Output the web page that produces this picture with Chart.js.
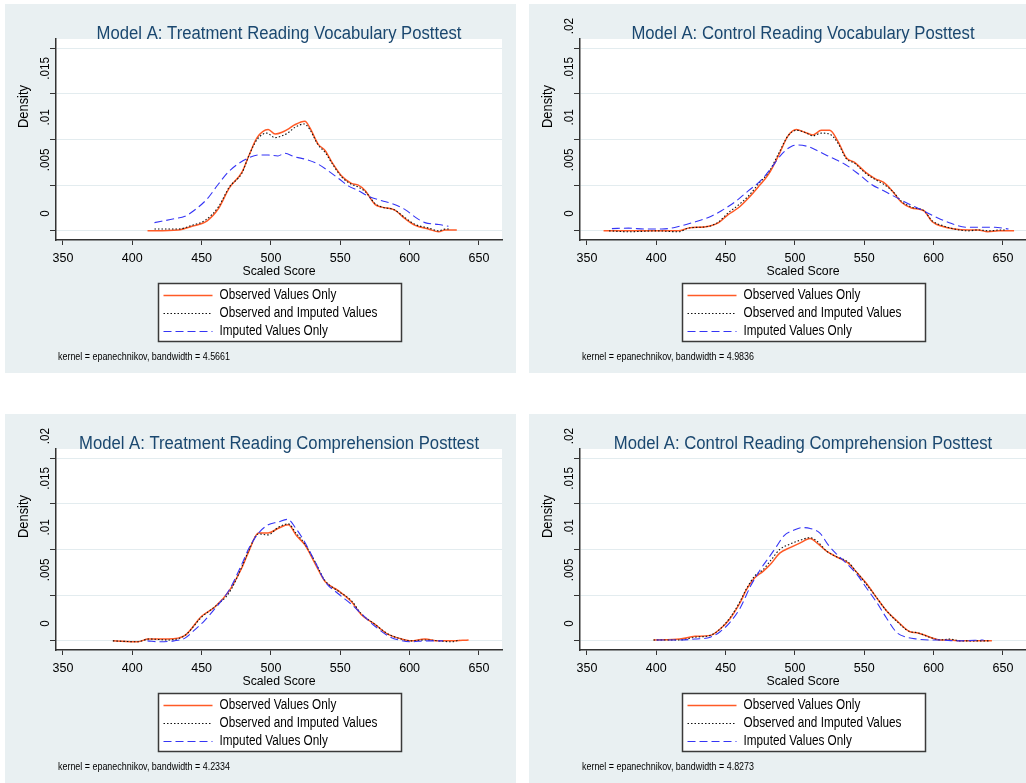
<!DOCTYPE html>
<html><head><meta charset="utf-8">
<script src="https://cdn.jsdelivr.net/npm/chart.js@4.4.1/dist/chart.umd.min.js"></script>
<style>
html,body{margin:0;padding:0;background:#fff;}
body{width:1026px;height:783px;overflow:hidden;position:relative;}
.panel{position:absolute;width:511px;height:369px;background:#e9f0f2;overflow:hidden;}
.panel canvas{position:absolute;left:0;top:0;}
</style></head><body>
<div class="panel" style="left:5px;top:4px"><canvas id="c0" width="511" height="369"></canvas></div>
<div class="panel" style="left:529px;top:4px"><canvas id="c1" width="511" height="369"></canvas></div>
<div class="panel" style="left:5px;top:414px"><canvas id="c2" width="511" height="369"></canvas></div>
<div class="panel" style="left:529px;top:414px"><canvas id="c3" width="511" height="369"></canvas></div>
<script>
// ---- tick labels, titles ----
const xTicks = [350, 400, 450, 500, 550, 600, 650];
const yTicks = [0, 0.005, 0.01, 0.015, 0.02];
const yTickLabels = ['0', '.005', '.01', '.015', '.02'];
const seriesLabels = ['Observed Values Only', 'Observed and Imputed Values', 'Imputed Values Only'];
const panelTitles = [
  'Model A: Treatment Reading Vocabulary Posttest',
  'Model A: Control Reading Vocabulary Posttest',
  'Model A: Treatment Reading Comprehension Posttest',
  'Model A: Control Reading Comprehension Posttest'
];
const panelNotes = [
  'kernel = epanechnikov, bandwidth = 4.5661',
  'kernel = epanechnikov, bandwidth = 4.9836',
  'kernel = epanechnikov, bandwidth = 4.2334',
  'kernel = epanechnikov, bandwidth = 4.8273'
];

// ---- Panel 1: Treatment Vocabulary ----
const p1ObsX = [411,433,443,454,462,470,479,484,490,498,503,508,513,517,524.5,528,534,539,544,551,558,563,568,575,580,589,597,604,613.5,621,625.5,634];
const p1ObsY = [0,0.0001,0.0005,0.0011,0.0024,0.0047,0.0064,0.0082,0.0102,0.0111,0.0106,0.0108,0.0112,0.0116,0.0120,0.0113,0.0095,0.0088,0.0075,0.0060,0.0052,0.0050,0.0044,0.0029,0.0026,0.0023,0.0013,0.0006,0.0002,-0.0001,0.0001,0.0001];
const p1AllX = [416,433,443,453,462,470,479,484,490,497,503,508,512,517,524,528,534,539,544,551,558,563,568,575,580,589,597,604,614,621,626,628.5];
const p1AllY = [0.0002,0.0002,0.0006,0.0012,0.0026,0.0048,0.0063,0.0082,0.0100,0.0107,0.0102,0.0104,0.0107,0.0113,0.0117,0.0111,0.0094,0.0086,0.0074,0.0059,0.0051,0.0048,0.0043,0.0030,0.0026,0.0023,0.0014,0.0007,0.0003,0.0000,0.0002,0.0002];
const p1ImpX = [416,431,438,446,454,462,469,476,484,491,498,505,510,517,526,534,541,549,556,563,570,580,587,597,604,611,621,628];
const p1ImpY = [0.0009,0.00135,0.0016,0.0024,0.0035,0.0051,0.0064,0.0073,0.0080,0.0083,0.0083,0.0082,0.0085,0.0081,0.0078,0.0073,0.0066,0.0057,0.0049,0.0044,0.0038,0.0033,0.0030,0.0023,0.0015,0.0009,0.0007,0.0005];

// ---- Panel 2: Control Vocabulary ----
const p2ObsX = [362,380,400,416,423,438,445,452,459,466.5,474,481,488,495,501,507,513,519,525,531,537,543,551,558,564,570,577,584,593,599,606,615,625,632,639,647,658];
const p2ObsY = [0,0,0,0,0.0003,0.0005,0.0009,0.0018,0.0025,0.0036,0.0049,0.0062,0.0082,0.0104,0.0111,0.0108,0.0105,0.0110,0.0110,0.0098,0.0080,0.0075,0.0064,0.0057,0.0053,0.0044,0.0031,0.0025,0.0022,0.0010,0.0005,0.0002,0.0001,0.0001,-0.0001,0,0];
const p2AllX = [366,380,400,416,423,438,445,452,459,467,474,481,488,495,501,507,513,519,525,531,537,543,551,558,564,570,577,584,593,599,606,615,625,632,640,648,652];
const p2AllY = [0,-0.0001,0,-0.0001,0.0003,0.0005,0.0010,0.0020,0.0028,0.0039,0.0052,0.0064,0.0084,0.0104,0.0110,0.0108,0.0104,0.0107,0.0106,0.0096,0.0079,0.0074,0.0063,0.0056,0.0051,0.0044,0.0032,0.0026,0.0022,0.0011,0.0006,0.0002,0,0.0001,0,0.0001,0.0001];
const p2ImpX = [368,380,392,404,414,426,438,447,457,466.5,476,483,490.5,498,502.5,510,517,526.5,536,546,555,565,575,584,594,603,613,623,632,644,654];
const p2ImpY = [0.00025,0.0003,0.0002,0.0002,0.0004,0.0009,0.0015,0.0022,0.0032,0.0044,0.0056,0.0069,0.0084,0.0093,0.0094,0.0092,0.0087,0.0080,0.0073,0.0062,0.0051,0.0043,0.0035,0.0028,0.0021,0.0014,0.0008,0.0004,0.0004,0.0004,0.0002];

// ---- Panel 3: Treatment Comprehension ----
const p3ObsX = [386,404,411.5,426,438,450,459.5,470,479,484,491,498,505,512.5,518.5,524.5,532,539,548.5,558,565,575,584.5,592,601,611,620.5,630,642.5];
const p3ObsY = [0,-0.0001,0.0002,0.0002,0.0006,0.0027,0.0037,0.0055,0.0080,0.0098,0.0118,0.0118,0.0123,0.0127,0.0115,0.0105,0.0084,0.0065,0.0055,0.0043,0.0029,0.0018,0.0007,0.0003,0,0.0002,0,0,0.0001];
const p3AllX = [386,404,412,426,438,450,460,470,479,484,491,498,505,512.5,518,524,532,539,549,558,565,575,585,592,601,611,621,630,636];
const p3AllY = [0,-0.0001,0.0002,0.0001,0.0006,0.0026,0.0038,0.0053,0.0081,0.0099,0.0117,0.0116,0.0124,0.0128,0.0118,0.0107,0.0086,0.0066,0.0054,0.0044,0.0030,0.0018,0.0007,0.0003,0,0.0001,0,-0.0001,0.0001];
const p3ImpX = [411,420,430,438,445,452,460,470,479,484,491,498,505,512,518,524,532,539,549,558,565,575,585,592,601,611,624];
const p3ImpY = [0,-0.0001,0,0.0003,0.0012,0.0022,0.0036,0.0056,0.0084,0.0101,0.0118,0.0127,0.0130,0.0133,0.0123,0.0109,0.0086,0.0065,0.0051,0.0040,0.0030,0.0016,0.0005,0.0001,-0.0001,0,0];

// ---- Panel 4: Control Comprehension ----
const p4ObsX = [398,417,428,439,446,453,460.5,465,471,477,483,489,496.5,503.5,511,516,523,530,538.5,544.5,552,559,566,573.5,583,588,597.5,604.5,612,619,631,642];
const p4ObsY = [0.0001,0.0002,0.0005,0.0006,0.0013,0.0024,0.0042,0.0056,0.0069,0.0076,0.0085,0.0096,0.0102,0.0107,0.0112,0.0107,0.0098,0.0092,0.0085,0.0075,0.0062,0.0047,0.0033,0.0022,0.0010,0.0009,0.0004,0.0001,0.0001,0,0,0];
const p4AllX = [398,417,428,439,446,453,460,465,471,477,483,489,496.5,503.5,511,516,523,530,538.5,544.5,552,559,566,573,583,588,597,605,612,619,631,640];
const p4AllY = [0.0001,0.0001,0.0004,0.0006,0.0013,0.0025,0.0042,0.0057,0.0071,0.0078,0.0089,0.0100,0.0106,0.0110,0.0113,0.0109,0.0098,0.0092,0.0086,0.0075,0.0061,0.0047,0.0033,0.0022,0.0010,0.0009,0.0004,0.0001,0.0002,0,0,0];
const p4ImpX = [400,417,428,439,446,453,460.5,468,475,482,487,492,499,505,511,518,524,530,537,544.5,552,559,566,573.5,580.5,588,597.5,604.5,616.5,636];
const p4ImpY = [0.0001,0.0001,0.0002,0.0004,0.0010,0.0020,0.0036,0.0060,0.0078,0.0093,0.0104,0.0115,0.0121,0.0124,0.0123,0.0118,0.0105,0.0095,0.0085,0.0073,0.0057,0.0042,0.0025,0.0009,0.0004,0.0002,0.0001,0.0001,0,0.0001];

const panelSeries = [
  [[p1ObsX, p1ObsY], [p1AllX, p1AllY], [p1ImpX, p1ImpY]],
  [[p2ObsX, p2ObsY], [p2AllX, p2AllY], [p2ImpX, p2ImpY]],
  [[p3ObsX, p3ObsY], [p3AllX, p3AllY], [p3ImpX, p3ImpY]],
  [[p4ObsX, p4ObsY], [p4AllX, p4AllY], [p4ImpX, p4ImpY]]
];

// ---- styling ----
const FONT = "'Liberation Sans',Arial,sans-serif";
const seriesStyles = [
  { borderColor: '#ff5a26', borderWidth: 1.5, borderDash: [], order: 2 },
  { borderColor: '#111111', borderWidth: 1.1, borderDash: [1.5, 2], order: 1 },
  { borderColor: '#3535f5', borderWidth: 1.1, borderDash: [8, 4], order: 0 }
];
Chart.defaults.font.family = FONT;
Chart.defaults.color = '#000';

// draw text squeezed horizontally (the reference type is condensed)
function squeezed(ctx, text, x, y, sx, align, rot) {
  ctx.save();
  ctx.translate(x, y);
  if (rot) ctx.rotate(rot);
  ctx.scale(sx, 1);
  ctx.textAlign = align;
  ctx.fillText(text, 0, 0);
  ctx.restore();
}

const decor = {
  id: 'decor',
  beforeDraw(chart) {
    const { ctx, chartArea: a } = chart;
    ctx.save();
    ctx.fillStyle = '#ffffff';
    ctx.fillRect(a.left, a.top, a.right - a.left, a.bottom - a.top);
    ctx.restore();
  },
  afterDraw(chart, args, opts) {
    const { ctx, chartArea: a } = chart;
    const cx = (a.left + a.right) / 2;
    ctx.save();
    // panel title
    ctx.font = '18px ' + FONT;
    ctx.fillStyle = '#1a476f';
    ctx.textBaseline = 'alphabetic';
    squeezed(ctx, opts.title, cx, a.top - 0.5, 0.927, 'center');
    // y axis title
    ctx.font = '14px ' + FONT;
    ctx.fillStyle = '#000';
    squeezed(ctx, 'Density', 22.5, a.top + 67.5, 0.92, 'center', -Math.PI / 2);
    // y tick labels (rotated, set above their ticks as in the reference)
    const ys = chart.scales.y;
    ctx.font = '13px ' + FONT;
    ctx.textBaseline = 'middle';
    yTicks.forEach((v, i) => {
      if (opts.hideTop && i === yTicks.length - 1) return;
      squeezed(ctx, yTickLabels[i], 40, ys.getPixelForValue(v) - 14, 0.9, 'left', -Math.PI / 2);
    });
    // legend
    const bw = 243, bh = 58;
    const bx = Math.round(cx - bw / 2) + 0.5, by = a.bottom + 43.5;
    ctx.fillStyle = '#ffffff';
    ctx.fillRect(bx, by, bw, bh);
    ctx.strokeStyle = '#3a3a3a';
    ctx.lineWidth = 1.5;
    ctx.strokeRect(bx, by, bw, bh);
    const rowY = [12, 30, 48];
    chart.data.datasets.forEach((ds, i) => {
      const y = by + rowY[i];
      ctx.save();
      ctx.strokeStyle = ds.borderColor;
      ctx.lineWidth = ds.borderWidth;
      ctx.setLineDash(ds.borderDash || []);
      ctx.beginPath();
      ctx.moveTo(bx + 5, y);
      ctx.lineTo(bx + 54, y);
      ctx.stroke();
      ctx.restore();
      ctx.font = '14px ' + FONT;
      ctx.fillStyle = '#000';
      ctx.textBaseline = 'middle';
      squeezed(ctx, ds.label, bx + 61, y, 0.84, 'left');
    });
    // note
    ctx.font = '10.5px ' + FONT;
    ctx.fillStyle = '#000';
    ctx.textBaseline = 'alphabetic';
    squeezed(ctx, opts.note, a.left + 2, 356, 0.85, 'left');
    ctx.restore();
  }
};

function makeChart(k) {
  const datasets = panelSeries[k].map((s, i) => ({
    label: seriesLabels[i],
    data: s[0].map((x, j) => ({ x: x, y: s[1][j] })),
    borderColor: seriesStyles[i].borderColor,
    borderWidth: seriesStyles[i].borderWidth,
    borderDash: seriesStyles[i].borderDash,
    order: seriesStyles[i].order,
    pointRadius: 0,
    fill: false,
    cubicInterpolationMode: 'monotone'
  }));
  return new Chart(document.getElementById('c' + k), {
    type: 'line',
    data: { datasets },
    plugins: [decor],
    options: {
      responsive: false,
      animation: false,
      devicePixelRatio: 1,
      layout: { padding: { left: 0, top: 35, right: 14, bottom: 94 } },
      plugins: {
        legend: { display: false },
        tooltip: { enabled: false },
        decor: { title: panelTitles[k], note: panelNotes[k], hideTop: k === 0 }
      },
      scales: {
        x: {
          type: 'linear', min: 345, max: 666.6,
          afterBuildTicks: s => { s.ticks = xTicks.map(v => ({ value: v })); },
          afterFit: s => { s.height = 39; },
          grid: { drawOnChartArea: false, tickLength: 5, tickColor: '#333', color: '#333' },
          border: { color: '#333', width: 1.5 },
          ticks: { font: { size: 12.5 }, color: '#000', padding: 6, maxRotation: 0, autoSkip: false },
          title: { display: true, text: 'Scaled Score', font: { size: 12.3 }, color: '#000', padding: { top: 0, bottom: 0 } }
        },
        y: {
          type: 'linear', min: -0.001, max: 0.021,
          afterBuildTicks: s => { s.ticks = yTicks.map(v => ({ value: v })); },
          afterFit: s => { s.width = 51; },
          grid: { color: '#e3ecef', tickColor: '#333', tickLength: 6, lineWidth: 1 },
          border: { color: '#333', width: 1.5 },
          ticks: { display: false }
        }
      }
    }
  });
}
[0, 1, 2, 3].forEach(makeChart);
</script>
</body></html>
